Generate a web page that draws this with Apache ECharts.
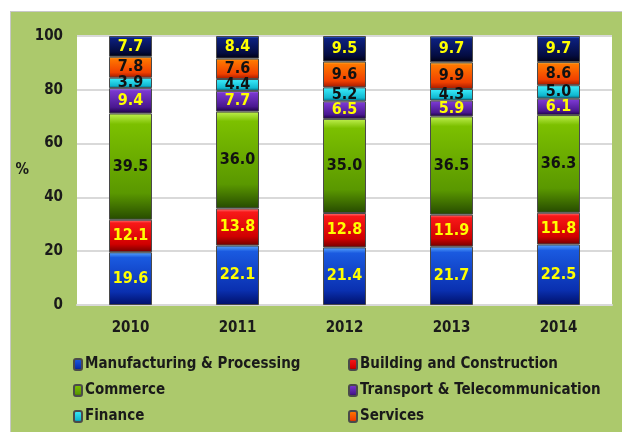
<!DOCTYPE html>
<html>
<head>
<meta charset="utf-8">
<script src="https://cdn.jsdelivr.net/npm/echarts@6/dist/echarts.min.js"></script>
<style>
html, body { margin: 0; padding: 0; background: #ffffff; }
#frame { position: absolute; left: 10px; top: 11px; width: 612px; height: 421px; background: #acc96c; border-top: 1px solid #c8c8c8; border-left: 1px solid #c8c8c8; box-sizing: border-box; }
#chart { position: absolute; left: 0; top: 0; width: 622px; height: 432px; }
</style>
</head>
<body>
<div id="frame"></div>
<div id="chart"></div>
<script>
// categories
var years = ['2010', '2011', '2012', '2013', '2014'];
// shares in %
var manufacturing = [19.6, 22.1, 21.4, 21.7, 22.5];
var building = [12.1, 13.8, 12.8, 11.9, 11.8];
var commerce = [39.5, 36.0, 35.0, 36.5, 36.3];
var transport = [9.4, 7.7, 6.5, 5.9, 6.1];
var finance = [3.9, 4.4, 5.2, 4.3, 5.0];
var services = [7.8, 7.6, 9.6, 9.9, 8.6];
var others = [7.7, 8.4, 9.5, 9.7, 9.7];
var yTicks = [0, 20, 40, 60, 80, 100];

var fontFam = '"DejaVu Sans Condensed", "Liberation Sans Narrow", sans-serif';

// glossy gradient for each segment
function grad(c) {
	return new echarts.graphic.LinearGradient(0, 0, 0, 1, [
		{offset: 0, color: c[0]},
		{offset: 0.1, color: c[1]},
		{offset: 0.75, color: c[2]},
		{offset: 1, color: c[3]}
	]);
}

function makeSeries(name, data, colors, labelColor) {
	return {
		name: name,
		type: 'bar',
		stack: 'total',
		barWidth: 43,
		data: data,
		itemStyle: {
			color: grad(colors),
			borderColor: '#4a4a4a',
			borderWidth: 1
		},
		label: {
			show: true,
			position: 'inside',
			formatter: function (p) { return p.value.toFixed(1); },
			color: labelColor,
			fontFamily: fontFam,
			fontWeight: 'bold',
			fontSize: 16
		}
	};
}

var chart = echarts.init(document.getElementById('chart'), null, {renderer: 'canvas'});

var legendText = {
	fontFamily: fontFam,
	fontWeight: 'bold',
	fontSize: 15,
	color: '#1a1a1a',
	padding: [0, 0, 0, -2]
};

var option = {
	backgroundColor: 'transparent',
	animation: false,
	grid: {left: 77, right: 10, top: 36, bottom: 127, backgroundColor: '#ffffff', show: true, borderWidth: 0},
	legend: [{
		data: ['Manufacturing & Processing', 'Commerce', 'Finance'],
		orient: 'vertical',
		left: 68,
		top: 352,
		itemWidth: 8,
		itemHeight: 11,
		itemGap: 11,
		textStyle: legendText
	}, {
		data: ['Building and Construction', 'Transport & Telecommunication', 'Services'],
		orient: 'vertical',
		left: 343,
		top: 352,
		itemWidth: 8,
		itemHeight: 11,
		itemGap: 11,
		textStyle: legendText
	}],
	xAxis: {
		type: 'category',
		data: years,
		axisLine: {show: true, lineStyle: {color: '#d9d9d9', width: 2}},
		axisTick: {show: false},
		axisLabel: {fontFamily: fontFam, fontWeight: 'bold', fontSize: 15, color: '#1a1a1a', margin: 16}
	},
	yAxis: {
		type: 'value',
		min: 0,
		max: 100,
		interval: 20,
		name: '%',
		nameLocation: 'middle',
		nameRotate: 0,
		nameGap: 47,
		nameTextStyle: {fontFamily: fontFam, fontWeight: 'bold', fontSize: 15, color: '#1a1a1a'},
		axisLine: {show: false},
		axisTick: {show: false},
		splitLine: {lineStyle: {color: '#d9d9d9', width: 2}},
		axisLabel: {
			fontFamily: fontFam, fontWeight: 'bold', fontSize: 15, color: '#1a1a1a', margin: 14,
			formatter: function (v) { return yTicks.indexOf(v) > -1 ? v : ''; }
		}
	},
	series: [
		makeSeries('Manufacturing & Processing', manufacturing, ['#5aa8ff', '#1a5ae0', '#0a30b0', '#00106a'], '#ffff00'),
		makeSeries('Building and Construction', building, ['#ff8080', '#f81818', '#d00000', '#700000'], '#ffff00'),
		makeSeries('Commerce', commerce, ['#c0f050', '#7cc000', '#5a9800', '#264a00'], '#111111'),
		makeSeries('Transport & Telecommunication', transport, ['#c8a0ff', '#7a38d0', '#4a1890', '#1a0040'], '#ffff00'),
		makeSeries('Finance', finance, ['#b0ffff', '#38e8f8', '#10b8d0', '#006078'], '#111111'),
		makeSeries('Services', services, ['#ffc850', '#ff7800', '#f04000', '#a01800'], '#111111'),
		makeSeries('Others', others, ['#3a80f0', '#0c2080', '#040c40', '#000010'], '#ffff00')
	]
};

chart.setOption(option);
</script>
</body>
</html>
